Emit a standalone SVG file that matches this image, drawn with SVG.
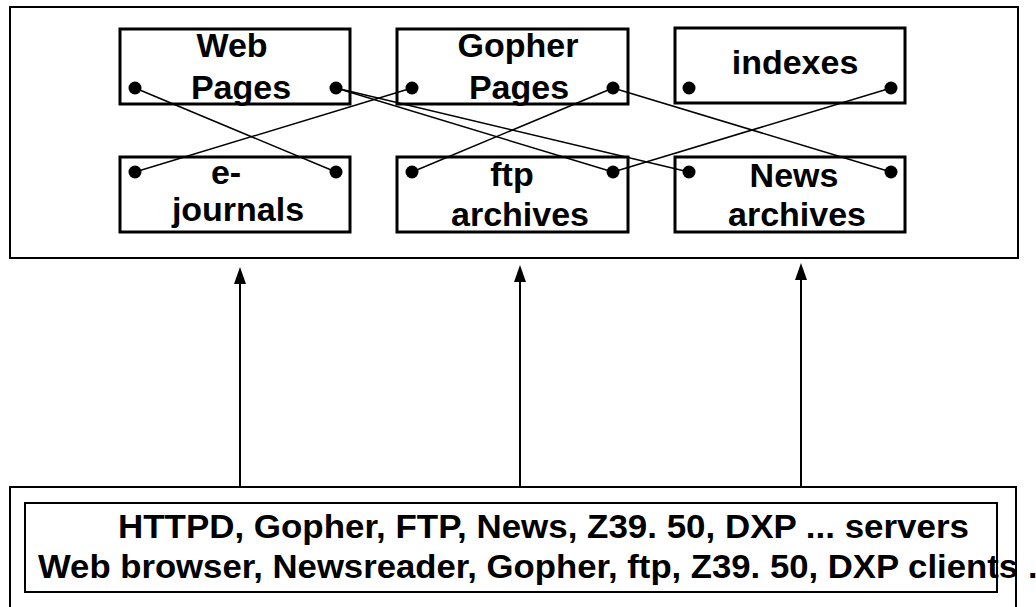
<svg xmlns="http://www.w3.org/2000/svg" width="1036" height="607" viewBox="0 0 1036 607">
<style>
.frame{fill:none;stroke:#000;stroke-width:2}
.box{fill:#fff;stroke:#000;stroke-width:3}
.lbl{font-family:"Liberation Sans",Arial,sans-serif;font-weight:bold;font-size:34px;fill:#000;text-anchor:middle}
.txt{font-family:"Liberation Sans",Arial,sans-serif;font-weight:bold;font-size:34px;fill:#000}
.con{stroke:#000;stroke-width:1.5;fill:none}
.dot{fill:#000}
.arr{stroke:#000;stroke-width:2;fill:none}
.head{fill:#000}
</style>
<rect fill="#fff" width="1036" height="607"/>
<rect class="frame" x="10" y="7" width="1008" height="251"/>
<rect class="frame" x="10" y="487" width="1006" height="140"/>
<g id="web-pages"><rect class="box" x="120" y="29" width="230" height="75"/><text class="lbl" x="232" y="57">Web</text><text class="lbl" x="241" y="99">Pages</text><circle class="dot" cx="135" cy="88" r="6.5"/><circle class="dot" cx="336" cy="88" r="6.5"/></g>
<g id="gopher-pages"><rect class="box" x="397" y="29" width="231" height="75"/><text class="lbl" x="518" y="57">Gopher</text><text class="lbl" x="519" y="99">Pages</text><circle class="dot" cx="412" cy="88" r="6.5"/><circle class="dot" cx="613" cy="88" r="6.5"/></g>
<g id="indexes"><rect class="box" x="675" y="28" width="230" height="75"/><text class="lbl" x="795" y="74">indexes</text><circle class="dot" cx="689" cy="88" r="6.5"/><circle class="dot" cx="891" cy="88" r="6.5"/></g>
<g id="e-journals"><rect class="box" x="120" y="157" width="230" height="75"/><text class="lbl" x="226" y="184">e-</text><text class="lbl" x="238" y="221">journals</text><circle class="dot" cx="135" cy="172" r="6.5"/><circle class="dot" cx="336" cy="172" r="6.5"/></g>
<g id="ftp-archives"><rect class="box" x="397" y="157" width="231" height="75"/><text class="lbl" x="512" y="186">ftp</text><text class="lbl" x="520" y="226">archives</text><circle class="dot" cx="412" cy="172" r="6.5"/><circle class="dot" cx="613" cy="172" r="6.5"/></g>
<g id="news-archives"><rect class="box" x="675" y="157" width="230" height="75"/><text class="lbl" x="794" y="187">News</text><text class="lbl" x="797" y="226">archives</text><circle class="dot" cx="689" cy="172" r="6.5"/><circle class="dot" cx="891" cy="172" r="6.5"/></g>
<g id="connectors">
<line class="con" x1="135" y1="88" x2="336" y2="172"/>
<line class="con" x1="412" y1="88" x2="135" y2="172"/>
<line class="con" x1="336" y1="88" x2="613" y2="172"/>
<line class="con" x1="336" y1="88" x2="689" y2="172"/>
<line class="con" x1="613" y1="88" x2="412" y2="172"/>
<line class="con" x1="613" y1="88" x2="891" y2="172"/>
<line class="con" x1="891" y1="88" x2="613" y2="172"/>
<line class="arr" x1="240" y1="487" x2="240" y2="282"/>
<polygon class="head" points="240,267 246,284 234,284"/>
<line class="arr" x1="520" y1="487" x2="520" y2="280"/>
<polygon class="head" points="520,265 526,282 514,282"/>
<line class="arr" x1="801" y1="487" x2="801" y2="278"/>
<polygon class="head" points="801,263 807,280 795,280"/>
</g>
<g id="servers-clients"><rect class="frame" x="25" y="503" width="972" height="89"/><text class="txt" x="118" y="538" textLength="851" lengthAdjust="spacingAndGlyphs">HTTPD, Gopher, FTP, News, Z39. 50, DXP ... servers</text><text class="txt" x="38" y="578" textLength="980" lengthAdjust="spacingAndGlyphs">Web browser, Newsreader, Gopher, ftp, Z39. 50, DXP clients</text><text class="txt" x="1028" y="578">.</text></g>
</svg>
